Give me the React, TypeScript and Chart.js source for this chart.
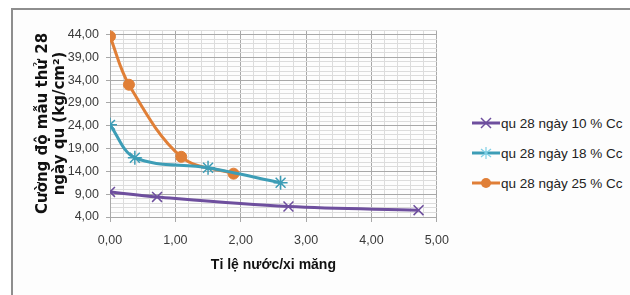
import React, { useEffect, useRef } from "react";
import { Chart, registerables } from "chart.js";
Chart.register(...registerables);

const seriesNames = ["qu 28 ngày 10 % Cc", "qu 28 ngày 18 % Cc", "qu 28 ngày 25 % Cc"];
const series10X = [0, 0.72, 2.73, 4.72];
const series10Y = [9.5, 8.4, 6.3, 5.5];
const series18X = [0, 0.38, 1.5, 2.61];
const series18Y = [24.2, 17.0, 14.8, 11.5];
const series25X = [0, 0.29, 1.09, 1.89];
const series25Y = [43.6, 33.0, 17.2, 13.5];
const yMajorTicks = [4, 9, 14, 19, 24, 29, 34, 39, 44];
const xMajorTicks = [0, 1, 2, 3, 4, 5];
const xTitle = "Tỉ lệ nước/xi măng";
const yTitle = ["Cường độ mẫu thử 28", "ngày qu (kg/cm²)"];

const colors = ["#6e4f9e", "#3d9db6", "#e07f37"];
const MAJOR = "#a8a8a8";
const MINOR = "#dcdcdc";

const fmt = (v: number) => v.toFixed(2).replace(".", ",");
const isMajorY = (v: number) => yMajorTicks.some((t) => Math.abs(t - v) < 1e-6);
const isMajorX = (v: number) => xMajorTicks.some((t) => Math.abs(t - v) < 1e-6);

function toPts(xs: number[], ys: number[]) {
  return xs.map((x, i) => ({ x, y: ys[i] }));
}

function LegendMarker({ idx }: { idx: number }) {
  const c = colors[idx];
  return (
    <svg width="30" height="14" style={{ display: "block" }}>
      <line x1="1" y1="7" x2="29" y2="7" stroke={c} strokeWidth="3" />
      {idx === 0 && (
        <g stroke={c} strokeWidth="1.5">
          <line x1="10" y1="2" x2="20" y2="12" />
          <line x1="20" y1="2" x2="10" y2="12" />
        </g>
      )}
      {idx === 1 && (
        <g stroke="#7fd0e6" strokeWidth="1.2">
          <line x1="15" y1="1" x2="15" y2="13" />
          <line x1="10" y1="3" x2="20" y2="11" />
          <line x1="20" y1="3" x2="10" y2="11" />
        </g>
      )}
      {idx === 2 && <circle cx="15" cy="7" r="5" fill={c} />}
    </svg>
  );
}

export default function App() {
  const ref = useRef<HTMLCanvasElement | null>(null);
  useEffect(() => {
    if (!ref.current) return;
    const chart = new Chart(ref.current, {
      type: "line",
      data: {
        datasets: [
          {
            label: seriesNames[0],
            data: toPts(series10X, series10Y),
            borderColor: colors[0],
            backgroundColor: colors[0],
            borderWidth: 3,
            pointStyle: "crossRot",
            pointRadius: 7,
            pointBorderWidth: 1.5,
            tension: 0.35,
          },
          {
            label: seriesNames[1],
            data: toPts(series18X, series18Y),
            borderColor: colors[1],
            backgroundColor: colors[1],
            borderWidth: 3,
            pointStyle: "star",
            pointRadius: 7,
            pointBorderWidth: 1.5,
            tension: 0.35,
          },
          {
            label: seriesNames[2],
            data: toPts(series25X, series25Y),
            borderColor: colors[2],
            backgroundColor: colors[2],
            borderWidth: 3,
            pointStyle: "circle",
            pointRadius: 5.5,
            pointBorderWidth: 1,
            tension: 0.35,
          },
        ],
      },
      options: {
        animation: false,
        responsive: false,
        maintainAspectRatio: false,
        layout: { padding: { top: 30, left: 0, right: 19, bottom: 0 } },
        plugins: { legend: { display: false }, tooltip: { enabled: false } },
        scales: {
          x: {
            type: "linear",
            min: 0,
            max: 5,
            afterBuildTicks: (s: any) => {
              const t = [];
              for (let i = 0; i <= 25; i++) t.push({ value: Math.round(i * 2) / 10 });
              s.ticks = t;
            },
            afterFit: (s: any) => {
              s.height = 78;
            },
            ticks: {
              autoSkip: false,
              maxRotation: 0,
              padding: 11,
              color: "#3a3a3a",
              font: { family: "'Liberation Sans', Arial", size: 12.5 },
              callback: (v: any) => (isMajorX(Number(v)) ? fmt(Number(v)) : ""),
            },
            grid: {
              color: (ctx: any) => (isMajorX(ctx.tick?.value) ? MAJOR : MINOR),
              tickColor: (ctx: any) => (isMajorX(ctx.tick?.value) ? MAJOR : "rgba(0,0,0,0)"),
              tickLength: 5,
              lineWidth: 1,
            },
            border: { color: MAJOR },
            title: {
              display: true,
              text: xTitle,
              color: "#111",
              font: { family: "'Liberation Sans', Arial", size: 14, weight: "bold" },
              padding: { top: 0, bottom: 21 },
            },
          },
          y: {
            type: "linear",
            min: 4,
            max: 45,
            afterBuildTicks: (s: any) => {
              const t = [];
              for (let v = 4; v <= 45; v++) t.push({ value: v });
              s.ticks = t;
            },
            afterFit: (s: any) => {
              s.width = 110;
            },
            ticks: {
              autoSkip: false,
              padding: 7,
              color: "#3a3a3a",
              font: { family: "'Liberation Sans', Arial", size: 12.5 },
              callback: (v: any) => (isMajorY(Number(v)) ? fmt(Number(v)) : ""),
            },
            grid: {
              color: (ctx: any) => (isMajorY(ctx.tick?.value) ? MAJOR : MINOR),
              tickColor: (ctx: any) => (isMajorY(ctx.tick?.value) ? MAJOR : "rgba(0,0,0,0)"),
              tickLength: 4,
              lineWidth: 1,
            },
            border: { color: MAJOR },
            title: {
              display: true,
              text: yTitle,
              color: "#111",
              font: { family: "'DejaVu Sans', sans-serif", size: 15, weight: "bold", lineHeight: "16.5px" },
              padding: { top: 35, bottom: 0 },
            },
          },
        },
      },
    } as any);
    return () => chart.destroy();
  }, []);

  const legendRows = [123, 153, 183];
  return (
    <div style={{ position: "absolute", left: 0, top: 0, width: 630, height: 295, overflow: "hidden", background: "#fff" }}>
      <div
        style={{
          position: "absolute",
          left: 11,
          top: 8,
          width: 700,
          height: 400,
          borderLeft: "2px solid #8e8e8e",
          borderTop: "2px solid #8e8e8e",
          background: "#fdfdfd",
        }}
      />
      <canvas ref={ref} width={460} height={295} style={{ position: "absolute", left: 0, top: 0, width: 460, height: 295 }} />
      {seriesNames.map((n, i) => (
        <div
          key={n}
          style={{
            position: "absolute",
            left: 471,
            top: legendRows[i] - 8,
            height: 16,
            display: "flex",
            alignItems: "center",
            whiteSpace: "nowrap",
            fontFamily: "'Liberation Sans', Arial, sans-serif",
            fontSize: 13.5,
            color: "#222",
          }}
        >
          <LegendMarker idx={i} />
          <span style={{ marginLeft: 0 }}>{n}</span>
        </div>
      ))}
    </div>
  );
}
